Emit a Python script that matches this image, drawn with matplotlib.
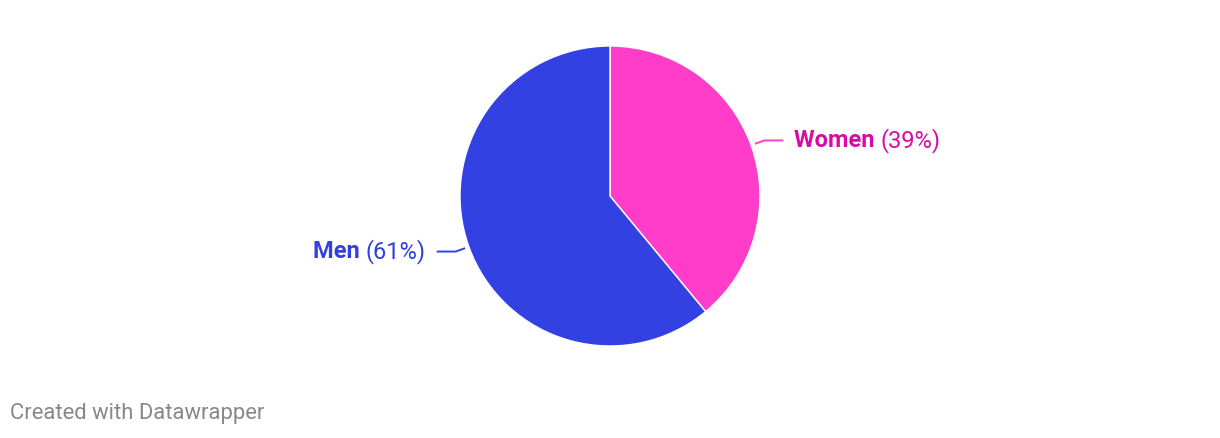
import numpy as np
import matplotlib.pyplot as plt
from matplotlib.patches import Wedge

labels = ["Women", "Men"]
shares = [39, 61]
wedge_colors = ["#ff3dc8", "#3341e3"]
text_colors = ["#d80ca5", "#3240dc"]

W, H = 1220, 438
fig = plt.figure(figsize=(W / 100, H / 100), dpi=100)
ax = fig.add_axes([0, 0, 1, 1])
ax.set_xlim(0, W)
ax.set_ylim(H, 0)
ax.set_aspect("equal")
ax.axis("off")

cx, cy, r = 610, 196, 150
fs = 17
inv = ax.transData.inverted()

start = 90.0
for lab, val, wc, tc in zip(labels, shares, wedge_colors, text_colors):
    sweep = val / sum(shares) * 360
    end = start - sweep
    # y axis points down, so angles are negated
    ax.add_patch(Wedge((cx, cy), r, -start, -end, facecolor=wc,
                       edgecolor="white", linewidth=1))
    mid = np.deg2rad((start + end) / 2)
    ex, ey = cx + (r + 4) * np.cos(mid), cy - (r + 4) * np.sin(mid)
    side = 1 if np.cos(mid) >= 0 else -1
    kx, ky = cx + (r + 14) * np.cos(mid), cy - (r + 14) * np.sin(mid)
    kx2 = kx + side * 19
    ax.plot([ex, kx, kx2], [ey, ky, ky], color=wc, lw=1.4,
            solid_capstyle="butt")
    tx = kx2 + side * 11
    if side > 0:
        t1 = ax.text(tx, ky, lab + " ", ha="left", va="center", color=tc,
                     fontsize=fs, fontweight="bold", family="Roboto")
        fig.canvas.draw()
        xd = inv.transform((t1.get_window_extent().x1, 0))[0]
        ax.text(xd, ky, f"({val}%)", ha="left", va="center", color=tc,
                fontsize=fs, family="Roboto")
    else:
        t2 = ax.text(tx, ky, f"({val}%)", ha="right", va="center", color=tc,
                     fontsize=fs, family="Roboto")
        fig.canvas.draw()
        xd = inv.transform((t2.get_window_extent().x0, 0))[0]
        ax.text(xd, ky, lab + " ", ha="right", va="center", color=tc,
                fontsize=fs, fontweight="bold", family="Roboto")
    start = end

ax.text(10, 414, "Created with Datawrapper", ha="left", va="center",
        color="#888888", fontsize=15.8, family="Roboto")

fig.savefig("out.png", dpi=100)
